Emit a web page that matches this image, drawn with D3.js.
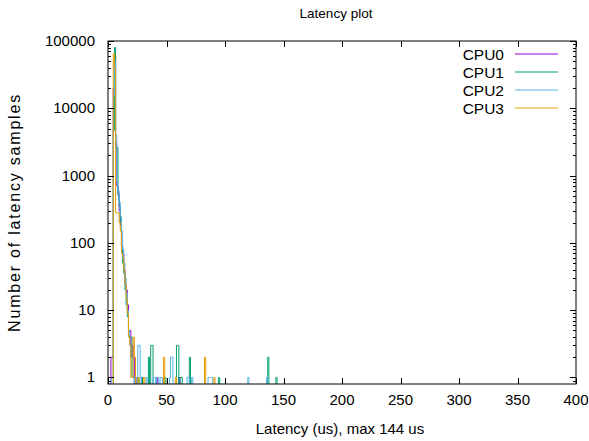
<!DOCTYPE html>
<html>
<head>
<meta charset="utf-8">
<script src="https://cdn.jsdelivr.net/npm/d3@7"></script>
<style>
  body { margin: 0; background: #fff; }
  text { font-family: "Liberation Sans", Arial, sans-serif; fill: #000; }
</style>
</head>
<body>
<svg id="chart"></svg>
<script>
// Histogram bins per CPU: [latency in us, number of samples]
var cpu0 = [[3,2],[4,2],[5,20000],[6,60000],[7,3000],[8,700],[9,550],[10,300],[11,180],[12,90],[13,70],[14,40],
  [15,25],[16,20],[17,12],[18,5],[19,5],[20,2],[21,3],[22,2],[25,1],[29,1],[42,1],[61,1]];
var cpu1 = [[5,4700],[6,80000],[7,2600],[8,2600],[9,500],[10,350],[11,200],[12,90],[13,50],[14,35],[15,20],
  [16,12],[17,8],[18,4],[19,4],[20,4],[21,1],[22,1],[23,1],[26,1],[29,1],[35,2],[37,3],[38,3],[49,1],
  [59,3],[60,3],[62,1],[63,1],[70,2],[95,1],[137,2],[144,1]];
var cpu2 = [[3,1],[4,1],[5,15000],[6,50000],[7,4000],[8,800],[9,600],[10,400],[11,250],[12,150],[13,80],
  [14,50],[15,30],[16,18],[17,10],[18,5],[19,3],[20,2],[21,2],[22,1],[24,1],[26,3],[27,3],[28,1],[33,1],
  [39,1],[40,1],[42,1],[43,1],[45,1],[46,1],[53,1],[54,2],[55,2],[68,1],[69,1],[72,1],[86,1],[87,1],
  [88,1],[89,1],[120,1],[136,1]];
var cpu3 = [[5,65000],[6,40000],[7,280],[8,280],[9,280],[10,200],[11,150],[12,70],[13,60],[14,40],[15,25],
  [16,15],[17,9],[18,4],[19,3],[20,1],[21,1],[22,4],[23,2],[26,1],[31,1],[48,2],[58,1],[83,2],[91,1]];

var seriesNames = ["CPU0", "CPU1", "CPU2", "CPU3"];
var seriesColours = ["#9400d3", "#009e73", "#56b4e9", "#e69f00"];
var xTicks = [0, 50, 100, 150, 200, 250, 300, 350, 400];
var yTicks = [1, 10, 100, 1000, 10000, 100000];

var width = 589,
    height = 441,
    plotLeft = 108, plotRight = 576, plotTop = 41, plotBottom = 384;

var svg = d3.select("#chart")
  .attr("width", width)
  .attr("height", height);

var x = d3.scaleLinear().domain([0, 400]).range([plotLeft, plotRight]);
var y = d3.scaleLog().domain([0.8, 100000]).range([plotBottom, plotTop]);

svg.append("clipPath").attr("id", "plot-clip")
  .append("rect")
    .attr("x", plotLeft).attr("y", plotTop)
    .attr("width", plotRight - plotLeft).attr("height", plotBottom - plotTop);

// histeps: every bin from -1 to 401, empty bins drop to the bottom of the plot
function binsOf(list) {
  var counts = {};
  list.forEach(function(d) { counts[d[0]] = d[1]; });
  return d3.range(-1, 402).map(function(i) { return [i, counts[i] || 0]; });
}

var line = d3.line()
  .x(function(d) { return x(d[0]); })
  .y(function(d) { return d[1] > 0 ? y(d[1]) : plotBottom + 2; })
  .curve(d3.curveStep);

var plot = svg.append("g").attr("clip-path", "url(#plot-clip)");
[cpu0, cpu1, cpu2, cpu3].forEach(function(list, i) {
  plot.append("path")
    .attr("d", line(binsOf(list)))
    .attr("fill", "none")
    .attr("stroke", seriesColours[i])
    .attr("stroke-width", 1);
});

// border and ticks (mirrored, pointing inwards)
var axes = svg.append("g").attr("stroke", "#000").attr("stroke-width", 1);
axes.append("rect")
  .attr("x", plotLeft).attr("y", plotTop)
  .attr("width", plotRight - plotLeft).attr("height", plotBottom - plotTop)
  .attr("fill", "none");

xTicks.forEach(function(t) {
  var px = Math.round(x(t)) + 0.5;
  axes.append("line").attr("x1", px).attr("x2", px).attr("y1", plotBottom).attr("y2", plotBottom - 6);
  axes.append("line").attr("x1", px).attr("x2", px).attr("y1", plotTop).attr("y2", plotTop + 6);
});

var minorY = [];
d3.range(-1, 5).forEach(function(e) {
  d3.range(2, 10).forEach(function(m) {
    var v = m * Math.pow(10, e);
    if (v > 0.8 && v < 100000) minorY.push(v);
  });
});
minorY.forEach(function(t) {
  var py = Math.round(y(t)) + 0.5;
  axes.append("line").attr("x1", plotLeft).attr("x2", plotLeft + 3).attr("y1", py).attr("y2", py);
  axes.append("line").attr("x1", plotRight).attr("x2", plotRight - 3).attr("y1", py).attr("y2", py);
});
yTicks.forEach(function(t) {
  var py = Math.round(y(t)) + 0.5;
  axes.append("line").attr("x1", plotLeft).attr("x2", plotLeft + 6).attr("y1", py).attr("y2", py);
  axes.append("line").attr("x1", plotRight).attr("x2", plotRight - 6).attr("y1", py).attr("y2", py);
});

// tick labels
svg.selectAll(".xlab").data(xTicks).enter().append("text")
  .attr("class", "xlab")
  .attr("x", function(d) { return x(d); })
  .attr("y", plotBottom + 21)
  .attr("text-anchor", "middle")
  .style("font-size", "15px")
  .text(function(d) { return d; });

svg.selectAll(".ylab").data(yTicks).enter().append("text")
  .attr("class", "ylab")
  .attr("x", plotLeft - 13)
  .attr("y", function(d) { return y(d) + 5; })
  .attr("text-anchor", "end")
  .style("font-size", "15px")
  .text(function(d) { return d; });

// titles
svg.append("text")
  .attr("x", 336).attr("y", 18)
  .attr("text-anchor", "middle")
  .style("font-size", "13.5px")
  .text("Latency plot");

svg.append("text")
  .attr("x", 340).attr("y", 434)
  .attr("text-anchor", "middle")
  .style("font-size", "15px")
  .text("Latency (us), max 144 us");

svg.append("text")
  .attr("transform", "translate(20," + ((plotTop + plotBottom) / 2) + ") rotate(-90)")
  .attr("text-anchor", "middle")
  .style("font-size", "16px")
  .style("letter-spacing", "1.8px")
  .text("Number of latency samples");

// legend
var legend = svg.selectAll(".legend").data(seriesNames).enter().append("g")
  .attr("class", "legend")
  .attr("transform", function(d, i) { return "translate(0," + (54 + i * 18) + ")"; });
legend.append("text")
  .attr("x", 504).attr("y", 5.5)
  .attr("text-anchor", "end")
  .style("font-size", "15.5px")
  .text(function(d) { return d; });
legend.append("line")
  .attr("x1", 515).attr("x2", 558).attr("y1", 0).attr("y2", 0)
  .attr("stroke", function(d, i) { return seriesColours[i]; })
  .attr("stroke-width", 1);
</script>
</body>
</html>
